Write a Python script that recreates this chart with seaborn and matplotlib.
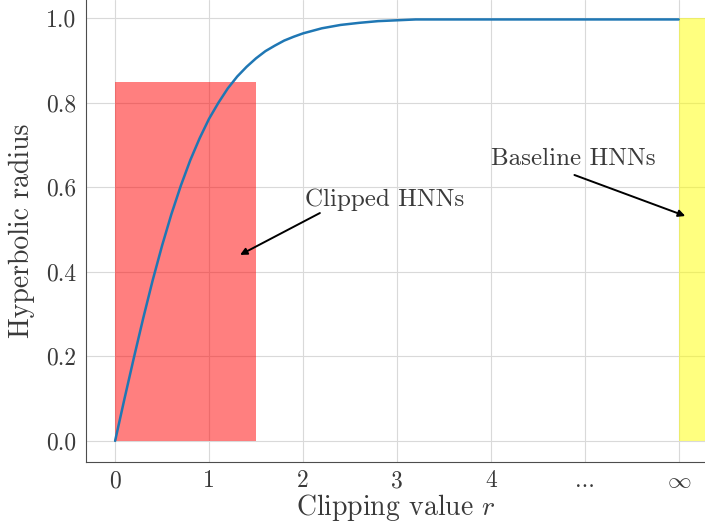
import numpy as np
import pandas as pd
import matplotlib
matplotlib.use("Agg")
import matplotlib.pyplot as plt
import seaborn as sns
from matplotlib.patches import Rectangle

# curve (hyperbolic radius vs clipping value)
r_vals = [0.0, 0.1, 0.2, 0.3, 0.4, 0.5, 0.6, 0.7, 0.8, 0.9, 1.0, 1.1, 1.2, 1.3,
          1.4, 1.5, 1.6, 1.7, 1.8, 1.9, 2.0, 2.2, 2.4, 2.6, 2.8, 3.0, 3.2, 4.0, 5.0, 6.0]
radius = [0.0, 0.10, 0.197, 0.291, 0.38, 0.462, 0.537, 0.604, 0.664, 0.716, 0.762,
          0.80, 0.834, 0.862, 0.885, 0.905, 0.922, 0.935, 0.947, 0.956, 0.964,
          0.976, 0.984, 0.989, 0.993, 0.995, 0.997, 0.997, 0.997, 0.997]

xtick_pos = [0, 1, 2, 3, 4, 5, 6]
xtick_labels = ["0", "1", "2", "3", "4", "...", r"$\infty$"]
ytick_pos = [0.0, 0.2, 0.4, 0.6, 0.8, 1.0]

clipped_box = (0.0, 1.5, 0.85)    # x start, x end, height
baseline_box = (6.0, 7.0, 1.0)

sns.set_style("whitegrid", {"axes.edgecolor": ".3", "grid.color": ".85"})
plt.rcParams["font.family"] = ["cmr10", "DejaVu Serif"]
plt.rcParams["mathtext.fontset"] = "cm"
plt.rcParams["axes.unicode_minus"] = False
plt.rcParams["axes.formatter.use_mathtext"] = True
txt_color = "#3a3a3a"

fig = plt.figure(figsize=(7.05, 5.28), dpi=100)
ax = fig.add_axes([86 / 705, 66 / 528, 1 - 86 / 705, 1 - 66 / 528])

df = pd.DataFrame({"r": r_vals, "radius": radius})
sns.lineplot(data=df, x="r", y="radius", ax=ax, color="#1f77b4", lw=1.8, zorder=3)

ax.add_patch(Rectangle((clipped_box[0], 0), clipped_box[1] - clipped_box[0], clipped_box[2],
                       color="red", alpha=0.5, lw=0, zorder=2))
ax.add_patch(Rectangle((baseline_box[0], 0), baseline_box[1] - baseline_box[0], baseline_box[2],
                       color="yellow", alpha=0.5, lw=0, zorder=2))

arrow = dict(arrowstyle="-|>", color="black", lw=1.4, shrinkA=0, shrinkB=0)
ax.text(2.02, 0.57, "Clipped HNNs", fontsize=18, color=txt_color, va="center", ha="left")
ax.annotate("", xy=(1.33, 0.44), xytext=(2.18, 0.539), arrowprops=arrow)
ax.text(4.0, 0.667, "Baseline HNNs", fontsize=18, color=txt_color, va="center", ha="left")
ax.annotate("", xy=(6.07, 0.532), xytext=(4.89, 0.629), arrowprops=arrow)

ax.set_xlim(-0.31, 6.28)
ax.set_ylim(-0.05, 1.043)
ax.set_xticks(xtick_pos)
ax.set_xticklabels(xtick_labels)
ax.set_yticks(ytick_pos)
ax.set_yticklabels([f"{v:.1f}" for v in ytick_pos])
ax.tick_params(labelsize=17, colors=txt_color, length=0, pad=7)
ax.tick_params(axis="x", pad=6)
ax.set_xlabel(r"Clipping value $r$", fontsize=20, color=txt_color, labelpad=0)
ax.set_ylabel("Hyperbolic radius", fontsize=20, color=txt_color, labelpad=8)
sns.despine(ax=ax)

fig.savefig("out.png", dpi=100)
